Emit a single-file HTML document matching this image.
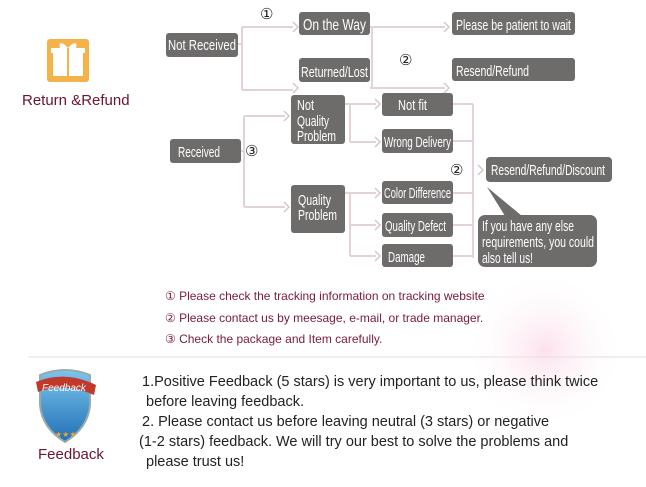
<!DOCTYPE html>
<html><head><meta charset="utf-8"><style>
body{margin:0;background:#fff;width:646px;height:487px;overflow:hidden}
svg{display:block}
svg text{font-family:"Liberation Sans",sans-serif}
</style></head><body>
<svg width="646" height="487" viewBox="0 0 646 487" xmlns="http://www.w3.org/2000/svg">
<defs>
<radialGradient id="pk" cx="0.5" cy="0.5" r="0.5"><stop offset="0" stop-color="#fbd9e8" stop-opacity="0.8"/><stop offset="1" stop-color="#fff" stop-opacity="0"/></radialGradient>
<linearGradient id="sh" x1="0" y1="0" x2="0" y2="1"><stop offset="0" stop-color="#7cc6ee"/><stop offset="1" stop-color="#1f6fb5"/></linearGradient>
<g id="chev"><path d="M0,-5 L5,0 L0,5" fill="none" stroke="#d9c6c9" stroke-width="1.5"/></g>
</defs>
<circle cx="545" cy="350" r="80" fill="url(#pk)"/>
<!-- gift -->
<rect x="47" y="39" width="42" height="43" rx="3" fill="#f5b24a"/>
<rect x="53" y="52" width="30" height="24" fill="#fff"/>
<rect x="51" y="48" width="34" height="5" fill="#fff"/>
<rect x="67" y="48" width="2" height="28" fill="#f5b24a"/>
<path d="M60,48 Q58,41 64,44 L68,48 L72,44 Q78,41 76,48" fill="#fff"/>
<text x="22" y="105" font-size="15" fill="#6b1530">Return &amp;Refund</text>
<!-- connectors -->
<g stroke="#e4d3d6" stroke-width="2" fill="none">
<path d="M238,44 H242 M242,27 V90 M242,27 H293 M242,90 H293"/>
<path d="M370,27 H445 M372,27 V88 M370,88 H445"/>
<path d="M241,151 H244 M244,116 V207 M244,116 H285 M244,207 H285"/>
<path d="M345,104 H350 M350,104 V142 M350,104 H376 M350,142 H376"/>
<path d="M345,193 H350 M350,193 V256 M350,193 H376 M350,225 H376 M350,256 H376"/>
<path d="M453,104 H473 M473,104 V258 M453,141 H473 M453,193 H473 M453,225 H473 M453,256 H473"/>
</g>
<use href="#chev" x="293" y="27"/><use href="#chev" x="293" y="88"/>
<use href="#chev" x="444" y="27"/><use href="#chev" x="444" y="88"/>
<use href="#chev" x="284" y="116"/><use href="#chev" x="284" y="207"/>
<use href="#chev" x="375" y="104"/><use href="#chev" x="375" y="142"/>
<use href="#chev" x="375" y="193"/><use href="#chev" x="375" y="225"/><use href="#chev" x="375" y="256"/>
<use href="#chev" x="478" y="170"/>
<!-- boxes -->
<g fill="#6e6b6b">
<rect x="166" y="33" width="72" height="24" rx="3"/>
<rect x="299" y="12" width="71" height="23" rx="3"/>
<rect x="299" y="58" width="71" height="24" rx="3"/>
<rect x="452" y="12" width="123" height="23" rx="3"/>
<rect x="452" y="58" width="123" height="23" rx="3"/>
<rect x="170" y="139" width="71" height="24" rx="3"/>
<rect x="291" y="95" width="54" height="49" rx="3"/>
<rect x="291" y="185" width="54" height="48" rx="3"/>
<rect x="382" y="93" width="71" height="23" rx="3"/>
<rect x="382" y="129" width="71" height="24" rx="3"/>
<rect x="382" y="181" width="71" height="23" rx="3"/>
<rect x="382" y="213" width="71" height="24" rx="3"/>
<rect x="382" y="244" width="71" height="23" rx="3"/>
<rect x="486" y="157" width="126" height="25" rx="4"/>
<rect x="478" y="215" width="119" height="52" rx="7"/>
<path d="M487,187 L505,216 L522,216 Z"/>
</g>
<g fill="#fff" font-size="14.5">
<text x="168" y="50" textLength="68" lengthAdjust="spacingAndGlyphs">Not Received</text>
<text x="303" y="30" font-size="16" textLength="63" lengthAdjust="spacingAndGlyphs">On the Way</text>
<text x="301" y="77" textLength="67" lengthAdjust="spacingAndGlyphs">Returned/Lost</text>
<text x="456" y="30" textLength="115" lengthAdjust="spacingAndGlyphs">Please be patient to wait</text>
<text x="456" y="76" textLength="73" lengthAdjust="spacingAndGlyphs">Resend/Refund</text>
<text x="178" y="157" textLength="42" lengthAdjust="spacingAndGlyphs">Received</text>
<text x="297" y="110" textLength="17" lengthAdjust="spacingAndGlyphs">Not</text>
<text x="297" y="126" textLength="32" lengthAdjust="spacingAndGlyphs">Quality</text>
<text x="297" y="141" textLength="39" lengthAdjust="spacingAndGlyphs">Problem</text>
<text x="298" y="205" textLength="33" lengthAdjust="spacingAndGlyphs">Quality</text>
<text x="298" y="220" textLength="39" lengthAdjust="spacingAndGlyphs">Problem</text>
<text x="398" y="110" textLength="29" lengthAdjust="spacingAndGlyphs">Not fit</text>
<text x="384" y="147" textLength="67" lengthAdjust="spacingAndGlyphs">Wrong Delivery</text>
<text x="384" y="198" textLength="67" lengthAdjust="spacingAndGlyphs">Color Difference</text>
<text x="385" y="231" textLength="61" lengthAdjust="spacingAndGlyphs">Quality Defect</text>
<text x="388" y="262" textLength="37" lengthAdjust="spacingAndGlyphs">Damage</text>
<text x="491" y="175" textLength="114" lengthAdjust="spacingAndGlyphs">Resend/Refund/Discount</text>
<text x="482" y="231" textLength="92" lengthAdjust="spacingAndGlyphs">If you have any else</text>
<text x="482" y="247" textLength="112" lengthAdjust="spacingAndGlyphs">requirements, you could</text>
<text x="482" y="263" textLength="51" lengthAdjust="spacingAndGlyphs">also tell us!</text>
</g>
<g font-size="15" fill="#222">
<text x="260" y="19">①</text><text x="399" y="65">②</text><text x="245" y="156">③</text><text x="450" y="175">②</text>
</g>
<g font-size="12" fill="#7a1a3a">
<text x="165" y="300">① Please check the tracking information on tracking website</text>
<text x="165" y="322">② Please contact us by meesage, e-mail, or trade manager.</text>
<text x="165" y="343">③ Check the package and Item carefully.</text>
</g>
<line x1="28" y1="357" x2="646" y2="357" stroke="#e6dfe1" stroke-width="1"/>
<!-- shield -->
<path d="M40,375 Q65,365 90,375 L90,405 Q88,428 65,442 Q42,428 40,405 Z" fill="url(#sh)" stroke="#9aa" stroke-width="2"/>
<path d="M36,382 Q65,370 96,385 L94,395 Q65,382 38,392 Z" fill="#c0392b"/>
<text x="42" y="391" font-size="10" fill="#fff" font-style="italic">Feedback</text>
<text x="55" y="437" font-size="8" fill="#f5a623">★★★</text>
<text x="38" y="459" font-size="15" fill="#6b1530">Feedback</text>
<g font-size="14.5" fill="#222">
<text x="142" y="386">1.Positive Feedback (5 stars) is very important to us, please think twice</text>
<text x="146" y="406">before leaving feedback.</text>
<text x="142" y="426">2. Please contact us before leaving neutral (3 stars) or negative</text>
<text x="139" y="446">(1-2 stars) feedback. We will try our best to solve the problems and</text>
<text x="146" y="466">please trust us!</text>
</g>
</svg>
</body></html>
